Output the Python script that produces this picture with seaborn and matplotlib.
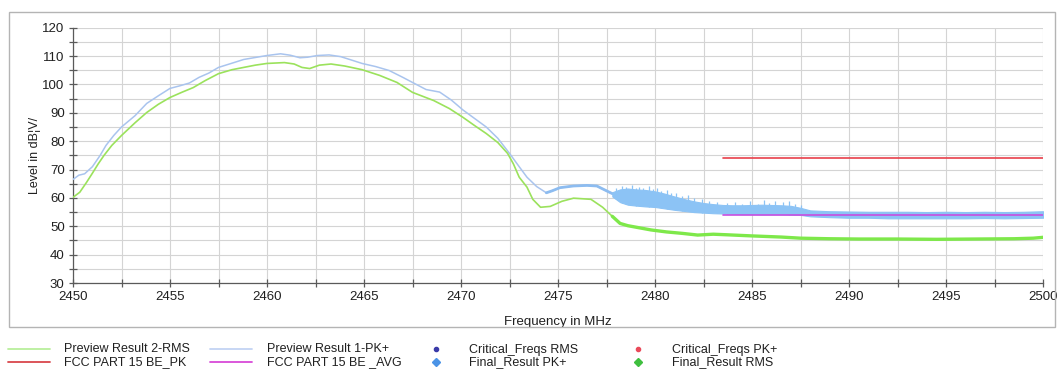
import numpy as np
import pandas as pd
import matplotlib
matplotlib.use("Agg")
import matplotlib.pyplot as plt
import seaborn as sns
from matplotlib.lines import Line2D
from matplotlib.patches import Rectangle
from matplotlib.ticker import MultipleLocator

# ---------------- data ----------------
pk_freq = [2450, 2450.3, 2450.6, 2451, 2451.4, 2451.7, 2452.1, 2452.5, 2453.2, 2453.8,
           2454.4, 2455, 2455.5, 2456, 2456.5, 2457, 2457.5, 2458.2, 2458.8, 2459.4,
           2460, 2460.7, 2461.2, 2461.7, 2462.1, 2462.6, 2463.2, 2463.8, 2464.4, 2464.9,
           2465.6, 2466.3, 2467, 2467.5, 2468.2, 2468.9, 2469.5, 2470.1, 2470.7, 2471.3,
           2471.9, 2472.5, 2473, 2473.4, 2473.9, 2474.4, 2474.7, 2475.1, 2475.8, 2476.5,
           2477, 2477.5, 2477.8]
pk_level = [66.5, 68, 68.5, 71, 75, 78.5, 82, 85, 89, 93.3,
            96, 98.6, 99.5, 100.5, 102.5, 104, 106, 107.5, 108.8, 109.5,
            110.2, 110.8, 110.3, 109.4, 109.6, 110.2, 110.4, 109.8, 108.5, 107.4,
            106.3, 104.9, 102.5, 100.7, 98.2, 97.3, 94.5, 91, 88, 85,
            81, 75.7, 71, 67.3, 64, 61.8, 62.5, 63.6, 64.2, 64.4,
            64.2, 62.5, 61.5]

# noisy part of the PK+ preview: body of the band (upper / lower envelope)
pk_noise_freq = [2477.8, 2478.2, 2478.6, 2479.0, 2479.5, 2480.0, 2480.5, 2481.0, 2481.5, 2482.0,
                 2482.5, 2483.0, 2483.5, 2484.0, 2484.5, 2485.0, 2485.5, 2486.0, 2486.5, 2487.0,
                 2487.5, 2488.0, 2489, 2490, 2491, 2492, 2493, 2494, 2495, 2496,
                 2497, 2498, 2499, 2500]
pk_noise_upper = [62.0, 63.0, 63.3, 63.0, 62.8, 62.3, 61.5, 60.5, 59.6, 58.8,
                  58.2, 57.8, 57.5, 57.4, 57.4, 57.5, 57.6, 57.5, 57.4, 57.2,
                  56.5, 55.6, 55.3, 55.2, 55.1, 55.1, 55.1, 55.0, 55.1, 55.0,
                  55.1, 55.0, 55.1, 55.3]
pk_noise_lower = [60.5, 58.5, 57.6, 57.3, 57.0, 56.8, 56.3, 55.8, 55.4, 55.0,
                  54.8, 54.6, 54.5, 54.4, 54.3, 54.3, 54.2, 54.2, 54.2, 54.1,
                  54.0, 53.5, 53.2, 53.0, 53.0, 52.8, 52.8, 52.8, 52.8, 52.8,
                  52.9, 52.8, 52.9, 53.0]
# individual peaks sticking out of the band
spike_freq = [2478.0, 2478.3, 2478.5, 2478.8, 2479.0, 2479.2, 2479.4, 2479.7, 2479.9, 2480.1,
              2480.3, 2480.6, 2480.8, 2481.1, 2481.4, 2481.7, 2482.0, 2482.4, 2482.8, 2483.2,
              2483.7, 2484.1, 2484.5, 2484.9, 2485.3, 2485.6, 2485.9, 2486.2, 2486.6, 2486.9,
              2487.2, 2487.5]
spike_top = [63.5, 64.2, 63.8, 64.5, 63.6, 64.0, 63.4, 64.3, 63.2, 63.4,
             62.6, 62.8, 61.9, 61.8, 60.6, 60.9, 59.8, 59.6, 58.8, 58.6,
             58.2, 58.4, 57.9, 58.8, 58.0, 59.2, 58.3, 59.0, 58.4, 58.9,
             57.8, 57.4]

rms_freq = [2450, 2450.35, 2450.7, 2451, 2451.3, 2451.6, 2452, 2452.5, 2453.2, 2453.8,
            2454.4, 2455, 2455.6, 2456.2, 2456.8, 2457.5, 2458.2, 2458.8, 2459.4, 2460,
            2460.9, 2461.4, 2461.8, 2462.2, 2462.7, 2463.3, 2464, 2464.9, 2465.8, 2466.7,
            2467.5, 2468.6, 2469.4, 2470.1, 2470.7, 2471.3, 2471.9, 2472.4, 2472.7, 2473,
            2473.4, 2473.7, 2474.1, 2474.6, 2475.2, 2475.8, 2476.7, 2477.3, 2477.8, 2478.2,
            2478.6, 2479, 2479.8, 2480.6, 2481.4, 2482.2, 2483, 2483.7, 2485, 2486.5,
            2487.5, 2489, 2490.5, 2492.5, 2494.5, 2496.5, 2498.5, 2499.5, 2500]
rms_level = [60.2, 62, 65.5, 68.7, 72, 75, 78.5, 82, 86.5, 90.1,
             93, 95.4, 97.2, 98.9, 101.3, 103.8, 105.2, 106, 106.8, 107.4,
             107.7, 107.2, 106, 105.6, 106.8, 107.2, 106.5, 105.2, 103.2, 100.7,
             97.2, 94.3, 91.5, 88.4, 85.5, 82.7, 79.5, 75.7, 72, 67.3,
             63.8, 59.5, 56.7, 57, 58.8, 59.9, 59.5, 56.7, 53.5, 51,
             50.2, 49.7, 48.7, 48, 47.5, 46.9, 47.2, 47, 46.6, 46.2,
             45.8, 45.6, 45.5, 45.5, 45.4, 45.5, 45.6, 45.8, 46.1]

limit_freq = [2483.5, 2500]
limit_pk = [74, 74]
limit_avg = [54, 54]

x_ticks = [2450, 2455, 2460, 2465, 2470, 2475, 2480, 2485, 2490, 2495, 2500]
y_ticks = [30, 40, 50, 60, 70, 80, 90, 100, 110, 120]

legend_lines = [("Preview Result 2-RMS", "#b9ef9c"), ("FCC PART 15 BE_PK", "#d9464c"),
                ("Preview Result 1-PK+", "#c3d3f3"), ("FCC PART 15 BE _AVG", "#d84ad8")]
legend_marks = [("Critical_Freqs RMS", "#3a3aa8", "o", 3), ("Final_Result PK+", "#4b93e6", "D", 4),
                ("Critical_Freqs PK+", "#ea4a5a", "o", 3), ("Final_Result RMS", "#3fbf3f", "D", 4)]

# ---------------- style ----------------
sns.set_theme(style="white")
plt.rcParams["font.family"] = ["Liberation Sans", "DejaVu Sans"]

W, H = 1057, 369
fig = plt.figure(figsize=(W / 100, H / 100), dpi=100)
ax = fig.add_axes([73 / W, 1 - 283 / H, (1043 - 73) / W, (283 - 27.7) / H])

pk_df = pd.DataFrame({"f": pk_freq, "v": pk_level})
rms_df = pd.DataFrame({"f": rms_freq, "v": rms_level})
noise_df = pd.DataFrame({"f": pk_noise_freq, "hi": pk_noise_upper, "lo": pk_noise_lower})
spike_df = pd.DataFrame({"f": spike_freq, "top": spike_top})

# PK+ preview (light blue)
sns.lineplot(data=pk_df, x="f", y="v", ax=ax, color="#a9c4ee", lw=1.1,
             estimator=None, sort=False, legend=False, zorder=3)
sns.lineplot(data=pk_df[pk_df["f"] >= 2474.0], x="f", y="v", ax=ax, color="#8dbcf0", lw=2.0,
             estimator=None, sort=False, legend=False, zorder=3)
ax.fill_between(noise_df["f"], noise_df["lo"], noise_df["hi"], color="#8cc3f5",
                lw=0.8, edgecolor="#8cc3f5", zorder=3)
spike_base = np.interp(spike_df["f"], noise_df["f"], noise_df["lo"])
ax.vlines(spike_df["f"], spike_base, spike_df["top"], color="#8cc3f5", lw=0.9, zorder=3)
# RMS preview (green)
sns.lineplot(data=rms_df, x="f", y="v", ax=ax, color="#9be25c", lw=1.2,
             estimator=None, sort=False, legend=False, zorder=4)
sns.lineplot(data=rms_df[rms_df["f"] >= 2477.6], x="f", y="v", ax=ax, color="#7ee84a", lw=2.4,
             estimator=None, sort=False, legend=False, zorder=4)
# limit lines
sns.lineplot(x=limit_freq, y=limit_pk, ax=ax, color="#e8404a", lw=1.2,
             estimator=None, legend=False, zorder=5)
sns.lineplot(x=limit_freq, y=limit_avg, ax=ax, color="#c84ee0", lw=1.2,
             estimator=None, legend=False, zorder=5)

ax.set_xlim(2450, 2500)
ax.set_ylim(30, 120)
ax.set_xticks(x_ticks)
ax.set_yticks(y_ticks)
ax.xaxis.set_minor_locator(MultipleLocator(2.5))
ax.yaxis.set_minor_locator(MultipleLocator(5))
ax.grid(True, which="both", color="#d4d4d4", lw=0.8, zorder=0)
ax.set_axisbelow(True)
for s in ["top", "right"]:
    ax.spines[s].set_visible(False)
for s in ["left", "bottom"]:
    ax.spines[s].set_color("#5a5a5a")
    ax.spines[s].set_linewidth(0.9)
ax.tick_params(axis="both", which="major", direction="inout", length=6, width=0.9,
               color="#5a5a5a", labelsize=9.5, labelcolor="#202020", pad=3)
ax.tick_params(axis="both", which="minor", direction="inout", length=6, width=0.9,
               color="#5a5a5a")
ax.tick_params(axis="x", which="both", bottom=True)
ax.tick_params(axis="y", which="both", left=True)
ax.set_xlabel("Frequency in MHz", fontsize=9.5, color="#202020", labelpad=9)
ax.set_ylabel("Level in dB\u00a6V/", fontsize=9, color="#202020", labelpad=1)

# outer frame
fig.add_artist(Rectangle((9 / W, 1 - 327 / H), (1055 - 9) / W, (327 - 12) / H,
                         transform=fig.transFigure, fill=False, edgecolor="#b4b4b4", lw=1))

# legend below the frame
row_y = [1 - 349 / H, 1 - 362 / H]
base_y = [1 - 352.5 / H, 1 - 365.0 / H]
line_cols = [(8, 50, 64), (210, 252, 267)]
for i, (label, col) in enumerate(legend_lines):
    c = i // 2
    r = i % 2
    x0, x1, xt = line_cols[c]
    fig.add_artist(Line2D([x0 / W, x1 / W], [row_y[r], row_y[r]], transform=fig.transFigure,
                          color=col, lw=1.3))
    fig.text(xt / W, base_y[r], label, fontsize=9, va="baseline", ha="left", color="#202020")
mark_cols = [(436, 469), (638, 672)]
for i, (label, col, m, ms) in enumerate(legend_marks):
    c = i // 2
    r = i % 2
    xm, xt = mark_cols[c]
    fig.add_artist(Line2D([xm / W], [row_y[r]], transform=fig.transFigure,
                          color=col, marker=m, ms=ms, lw=0))
    fig.text(xt / W, base_y[r], label, fontsize=9, va="baseline", ha="left", color="#202020")

fig.savefig("out.png", dpi=100)
